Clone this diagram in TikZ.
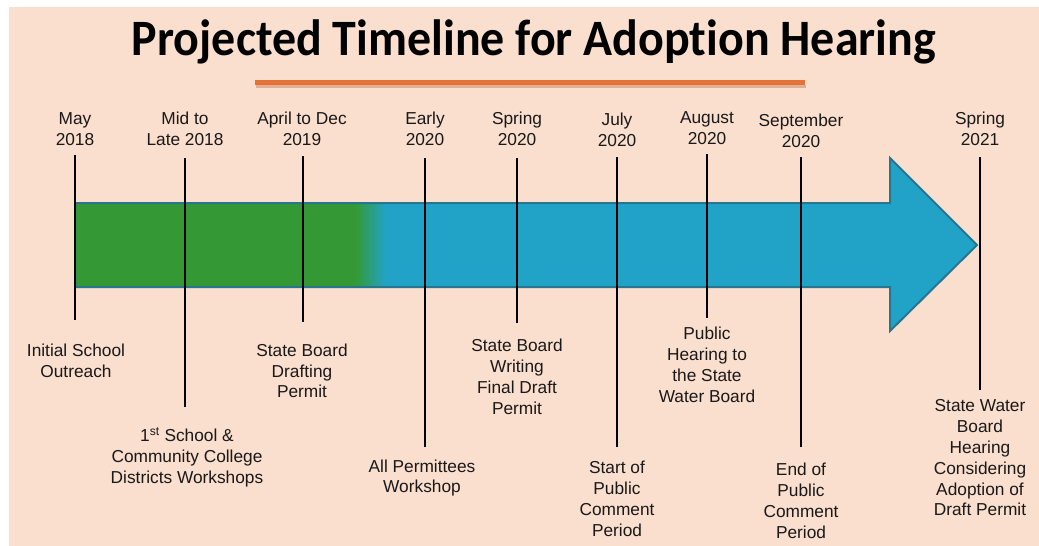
\documentclass[tikz,border=0pt]{standalone}
\usepackage{graphicx}
\usepackage{fontspec}
\setmainfont{Liberation Sans}
\newfontfamily\titlefont[Ligatures=NoCommon]{Carlito}
\definecolor{bgpeach}{RGB}{250,222,206}
\definecolor{arrgreen}{RGB}{52,153,52}
\definecolor{arrblue}{RGB}{33,163,200}
\definecolor{arrborder}{RGB}{38,118,145}
\definecolor{lineorange}{RGB}{229,115,56}
\definecolor{lineshadow}{RGB}{200,130,100}
\begin{document}
\begin{tikzpicture}[x=1pt,y=-1pt,
  lbl/.style={inner sep=0pt,align=center,font=\fontsize{17.3}{20.8}\selectfont,text=black!90},
  tick/.style={draw=black,line width=1.8pt}]
\useasboundingbox (0,0) rectangle (1039,546);
\fill[white] (0,0) rectangle (1039,546);
\fill[bgpeach] (9,7) rectangle (1039,546);
% title
\node[inner sep=0pt,anchor=base] (title) at (534,55) {\scalebox{0.94}[1]{\titlefont\bfseries\fontsize{51}{60}\selectfont Projected Timeline for Adoption Hearing}};
% orange rule
\draw[lineshadow,line width=3pt,opacity=0.5] (256,86) -- (806,86);
\draw[lineorange,line width=4.5pt] (255,82.5) -- (805,82.5);
% arrow
\def\arrowpath{(75,203) -- (890,203) -- (890,158) -- (977,245) -- (890,331) -- (890,287) -- (75,287) -- cycle}
\begin{scope}
  \clip \arrowpath;
  \fill[arrblue] (70,150) rectangle (980,340);
  \fill[arrgreen] (70,150) rectangle (355,340);
  \shade[left color=arrgreen,right color=arrblue] (355,150) rectangle (386,340);
\end{scope}
\draw[arrborder,line width=2pt,line join=miter] \arrowpath;
% top labels
\node[lbl] (t1) at (75,129) {May\\2018};
\node[lbl] (t2) at (185,129) {Mid to\\Late 2018};
\node[lbl] (t3) at (302,129) {April to Dec\\2019};
\node[lbl] (t4) at (425,129) {Early\\2020};
\node[lbl] (t5) at (517,129) {Spring\\2020};
\node[lbl] (t6) at (617,130) {July\\2020};
\node[lbl] (t7) at (707,128) {August\\2020};
\node[lbl] (t8) at (801,131) {September\\2020};
\node[lbl] (t9) at (980,129) {Spring\\2021};
% bottom labels
\node[lbl] (b1) at (76,361) {Initial School\\Outreach};
\node[lbl] (b2) at (187,457) {1\textsuperscript{st} School \&\\Community College\\Districts Workshops};
\node[lbl] (b3) at (302,371) {State Board\\Drafting\\Permit};
\node[lbl] (b4) at (422,478) {All Permittees\\Workshop};
\node[lbl] (b5) at (517,377) {State Board\\Writing\\Final Draft\\Permit};
\node[lbl] (b6) at (617,499) {Start of\\Public\\Comment\\Period};
\node[lbl] (b7) at (707,365) {Public\\Hearing to\\the State\\Water Board};
\node[lbl] (b8) at (801,501) {End of\\Public\\Comment\\Period};
\node[lbl] (b9) at (980,458) {State Water\\Board\\Hearing\\Considering\\Adoption of\\Draft Permit};
% tick end points
\coordinate (a1) at (75,155);  \coordinate (z1) at (75,320);
\coordinate (a2) at (185,158); \coordinate (z2) at (185,407);
\coordinate (a3) at (303,156); \coordinate (z3) at (303,322);
\coordinate (a4) at (425,158); \coordinate (z4) at (425,447);
\coordinate (a5) at (517,158); \coordinate (z5) at (517,323);
\coordinate (a6) at (617,157); \coordinate (z6) at (617,447);
\coordinate (a7) at (707,154); \coordinate (z7) at (707,318);
\coordinate (a8) at (801,157); \coordinate (z8) at (801,447);
\coordinate (a9) at (980,157); \coordinate (z9) at (980,390);
\foreach \i in {1,...,9} \draw[tick] (a\i) -- (z\i);
\end{tikzpicture}
\end{document}
